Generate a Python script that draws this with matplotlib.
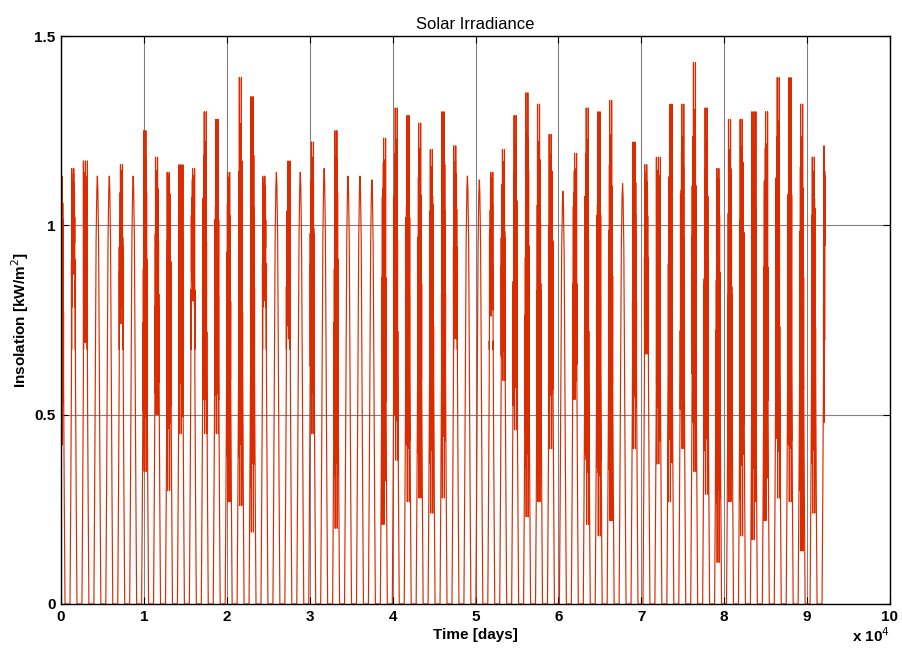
import numpy as np
import matplotlib
matplotlib.use("Agg")
import matplotlib.pyplot as plt
from matplotlib.ticker import FuncFormatter

# Daily readings taken off the chart (65 day segments, first and last are partial)
day_peak = [1.13, 1.15, 1.17, 1.13, 1.13, 1.16, 1.13, 1.25, 1.18, 1.14,
            1.16, 1.15, 1.30, 1.28, 1.14, 1.39, 1.34, 1.13, 1.14, 1.17,
            1.14, 1.22, 1.15, 1.25, 1.13, 1.13, 1.12, 1.23, 1.31, 1.29,
            1.27, 1.20, 1.30, 1.21, 1.13, 1.12, 1.14, 1.20, 1.29, 1.35,
            1.32, 1.24, 1.09, 1.19, 1.31, 1.30, 1.33, 1.11, 1.22, 1.16,
            1.18, 1.32, 1.32, 1.43, 1.31, 1.15, 1.28, 1.28, 1.30, 1.30,
            1.39, 1.39, 1.32, 1.18, 1.21]
day_low = [0.42, 0.87, 0.69, 1.05, 1.00, 0.74, 1.00, 0.35, 0.50, 0.30,
           0.45, 0.80, 0.45, 0.45, 0.27, 0.26, 0.19, 0.80, 0.95, 0.70,
           1.02, 0.45, 1.05, 0.20, 1.00, 1.02, 1.05, 0.21, 0.38, 0.27,
           0.28, 0.24, 0.28, 0.70, 1.00, 1.05, 0.76, 0.59, 0.46, 0.23,
           0.27, 0.41, 0.95, 0.54, 0.21, 0.18, 0.22, 1.00, 0.41, 0.66,
           0.37, 0.27, 0.41, 0.35, 0.29, 0.11, 0.27, 0.18, 0.17, 0.22,
           0.28, 0.27, 0.14, 0.24, 0.48]

# clear-sky day shape (hour of day, fraction of the day's top)
clear_hours = [5.0, 6.5, 8.0, 9.5, 11.0, 12.0, 13.0, 14.5, 16.0, 17.5, 19.0]
clear_shape = [0.0, 0.25, 0.55, 0.85, 0.97, 1.0, 0.97, 0.85, 0.55, 0.25, 0.0]
clear_top = 1.12

# cloudy days: how far each swing goes (0 = clear-sky level, 1 = day peak / day low)
swing_up = [0.3, 0.55, 1.0, 0.4, 0.15, 0.6, 0.35, 0.2]
swing_down = [0.4, 0.8, 0.3, 1.0, 0.6, 0.2, 0.7, 0.5]

total_minutes = 92160   # 64 days of 1-minute samples
start_clock = 11 * 60   # record starts at 11:00

t_all, v_all = [], []
for d, (pk, lo) in enumerate(zip(day_peak, day_low)):
    base = d * 1440 - start_clock
    if lo >= 0.95:
        hrs = list(clear_hours)
        vals = [s * pk for s in clear_shape]
    else:
        hrs = clear_hours[:3]
        vals = [s * clear_top for s in clear_shape[:3]]
        mid = np.arange(8.0, 16.01, 0.25)
        for i, h in enumerate(mid):
            env = clear_top * np.interp(h, clear_hours, clear_shape)
            if i % 2 == 0:
                f = swing_up[(i // 2 + d) % len(swing_up)]
                v = env + f * (max(pk, env) - env)
            else:
                f = swing_down[(i // 2 + d) % len(swing_down)]
                v = env - f * max(env - lo, 0.0)
            hrs.append(h)
            vals.append(v)
        hrs += clear_hours[-3:]
        vals += [s * clear_top for s in clear_shape[-3:]]
    for h, v in zip(hrs, vals):
        t = base + h * 60
        if 0 <= t <= total_minutes:
            t_all.append(t)
            v_all.append(v)

fig = plt.figure(figsize=(9.03, 6.51), dpi=100)
ax = fig.add_axes([0.0676, 0.0722, 0.9180, 0.8725])

ax.plot(t_all, v_all, color='#DA2C00', linewidth=0.85)

ax.set_xlim(0, 100000)
ax.set_ylim(0, 1.5)
ax.set_xticks(np.arange(0, 100001, 10000))
ax.set_yticks([0, 0.5, 1.0, 1.5])
ax.xaxis.set_major_formatter(FuncFormatter(lambda x, p: '%g' % (x / 10000)))
ax.yaxis.set_major_formatter(FuncFormatter(lambda y, p: '%g' % y))

font = 'Liberation Sans'
for lab in ax.get_xticklabels() + ax.get_yticklabels():
    lab.set_fontfamily(font)
    lab.set_fontweight('bold')
    lab.set_fontsize(11)
ax.tick_params(direction='in', length=5, width=0.8, top=True, right=True, pad=4)

ax.grid(True, color='#808080', linewidth=0.8, linestyle='-')
ax.set_axisbelow(True)
for sp in ax.spines.values():
    sp.set_linewidth(1.0)

ax.set_title('Solar Irradiance', fontfamily=font, fontsize=12, pad=5)
ax.set_xlabel('Time [days]', fontfamily=font, fontweight='bold', fontsize=11, labelpad=3)
ax.set_ylabel('Insolation [kW/m$^2$]', fontfamily=font, fontweight='bold', fontsize=11, labelpad=2)
ax.text(1.0, -0.04, 'x 10$^4$', transform=ax.transAxes, ha='right', va='top',
        fontfamily=font, fontweight='bold', fontsize=11)

plt.savefig('out.png', dpi=100)
